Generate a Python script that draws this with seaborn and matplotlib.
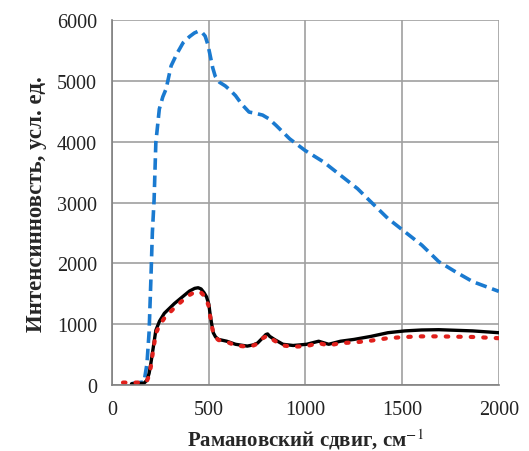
import numpy as np
import pandas as pd
import matplotlib

matplotlib.use("Agg")
import matplotlib.pyplot as plt
import seaborn as sns

######Spectra
blue_x = [100, 112, 165, 180, 191, 200, 208, 217, 226, 244, 262, 279, 305, 335, 367,
          400, 425, 446, 465, 481, 495, 507, 520, 533, 555, 585, 610, 638, 670, 708,
          740, 778, 810, 848, 918, 997, 1093, 1181, 1269, 1339, 1426, 1514, 1602,
          1689, 1777, 1865, 2000]
blue_y = [20, 30, 50, 350, 865, 1700, 2507, 3050, 3990, 4540, 4740, 4870, 5250, 5450, 5630,
          5730, 5790, 5820, 5800, 5740, 5600, 5420, 5220, 5080, 4980, 4920, 4850, 4760, 4620,
          4490, 4470, 4440, 4380, 4270, 4050, 3860, 3670, 3450, 3230, 3010, 2740, 2520, 2300,
          2030, 1860, 1700, 1540]

black_x = [100, 165, 180, 191, 200, 208, 226, 245, 270, 322, 375, 400, 427, 445, 460,
           475, 488, 500, 506, 515, 523, 535, 550, 593, 638, 699, 730, 752, 780, 795,
           804, 815, 839, 883, 936, 1006, 1068, 1120, 1181, 1251, 1339, 1426, 1514,
           1600, 1689, 1865, 2000]
black_y = [20, 30, 80, 190, 350, 520, 900, 1050, 1180, 1340, 1480, 1545, 1590, 1600, 1580,
           1520, 1450, 1330, 1180, 1000, 860, 790, 750, 720, 670, 640, 660, 690, 780, 830,
           840, 800, 750, 670, 650, 670, 720, 670, 720, 750, 800, 860, 890, 905, 910,
           890, 860]

red_x = [56, 100, 165, 180, 191, 200, 208, 226, 245, 270, 322, 375, 400, 427, 445, 460,
         475, 488, 500, 506, 515, 523, 535, 550, 593, 638, 699, 730, 752, 780, 795,
         804, 815, 839, 883, 936, 1006, 1068, 1120, 1181, 1251, 1339, 1426, 1514,
         1600, 1689, 1865, 2000]
red_y = [40, 40, 40, 70, 150, 300, 480, 850, 980, 1100, 1270, 1420, 1480, 1530, 1535, 1520,
         1470, 1400, 1290, 1150, 980, 850, 780, 740, 710, 650, 630, 650, 680, 770, 800,
         810, 780, 730, 650, 630, 640, 690, 650, 690, 700, 730, 770, 790, 800, 800,
         790, 770]

x_ticks = [0, 500, 1000, 1500, 2000]
y_ticks = [0, 1000, 2000, 3000, 4000, 5000, 6000]

sns.set_style("white")
plt.rcParams["font.family"] = ["Liberation Serif", "DejaVu Serif"]
plt.rcParams["mathtext.fontset"] = "stix"

fig = plt.figure(figsize=(5.29, 4.52), dpi=100)
ax = fig.add_axes([0.212, 0.146, 0.731, 0.807])

sns.lineplot(x=blue_x, y=blue_y, ax=ax, color="#1a7ad0", linewidth=2.6,
             linestyle=(0, (3.2, 1.6)))
sns.lineplot(x=black_x, y=black_y, ax=ax, color="black", linewidth=2.4)
sns.lineplot(x=red_x, y=red_y, ax=ax, color="#e0201c", linewidth=3.0,
             linestyle=(0, (0.6, 2.4)), dash_capstyle="round")

ax.set_xlim(0, 2000)
ax.set_ylim(0, 6000)
ax.set_xticks(x_ticks)
ax.set_yticks(y_ticks)
ax.grid(True, color="#a0a0a0", linewidth=1.2)
ax.set_axisbelow(True)
for side in ["top", "right"]:
    ax.spines[side].set_visible(False)
for side in ["left", "bottom"]:
    ax.spines[side].set_color("#808080")
    ax.spines[side].set_linewidth(1.2)
ax.tick_params(axis="both", direction="out", length=5, width=1.2, color="#808080",
               labelsize=14.5, labelcolor="#222222", pad=6)

ax.set_xlabel("Рамановский сдвиг, см$^{-1}$", fontsize=15, fontweight="bold", labelpad=5)
ax.set_ylabel("Интенсинновсть, усл. ед.", fontsize=16.5, fontweight="bold", labelpad=7)

plt.savefig("out.png", dpi=100)
plt.close(fig)
